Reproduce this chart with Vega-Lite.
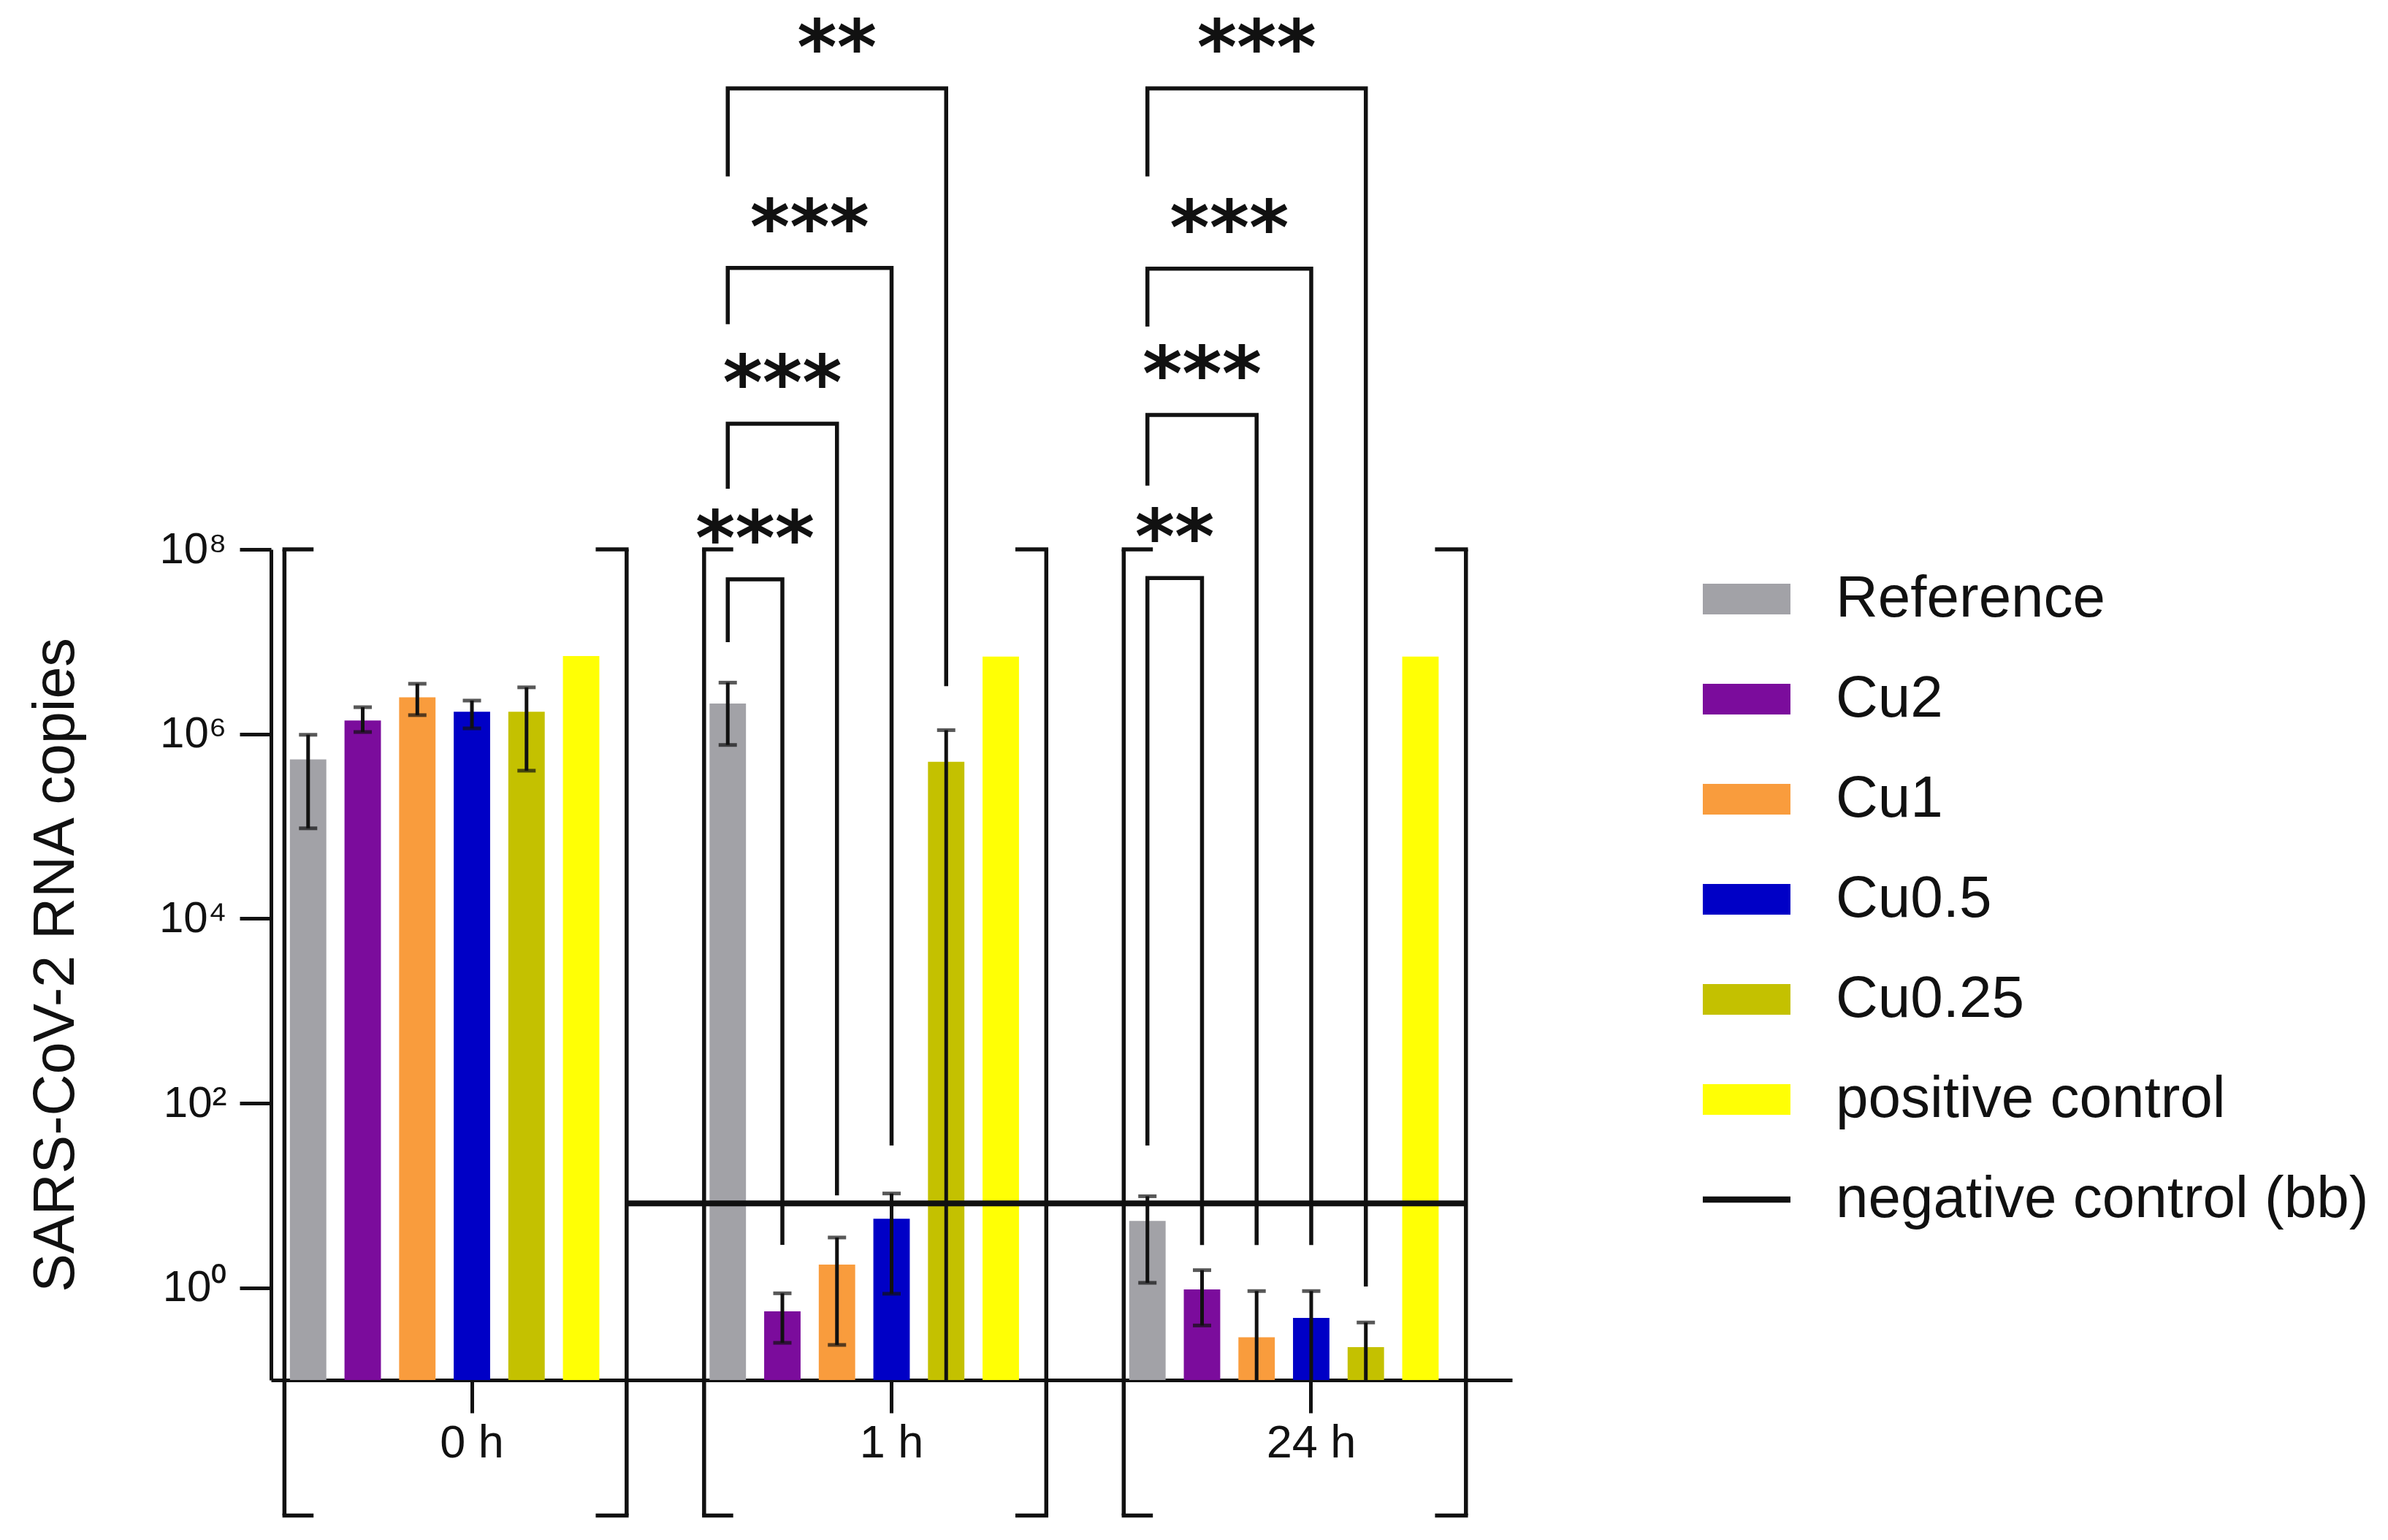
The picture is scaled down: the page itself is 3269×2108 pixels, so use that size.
{
  "$schema": "https://vega.github.io/schema/vega-lite/v6.json",
  "width": 1699,
  "height": 1137,
  "autosize": {"type": "none"},
  "padding": {"left": 371, "top": 752, "right": 1199, "bottom": 219},
  "background": "white",
  "config": {
    "view": {"stroke": null},
    "font": "Liberation Sans",
    "axis": {"labelFont": "Liberation Sans", "titleFont": "Liberation Sans", "grid": false}
  },
  "datasets": {
    "bars": [
      {"group": "0 h", "series": "Reference", "value": 530000, "lo": 95000, "hi": 980000},
      {"group": "0 h", "series": "Cu2", "value": 1400000, "lo": 1050000, "hi": 1950000},
      {"group": "0 h", "series": "Cu1", "value": 2500000, "lo": 1600000, "hi": 3500000},
      {"group": "0 h", "series": "Cu0.5", "value": 1740000, "lo": 1150000, "hi": 2300000},
      {"group": "0 h", "series": "Cu0.25", "value": 1740000, "lo": 400000, "hi": 3200000},
      {"group": "0 h", "series": "positive control", "value": 7000000, "lo": null, "hi": null},
      {"group": "1 h", "series": "Reference", "value": 2140000, "lo": 760000, "hi": 3600000},
      {"group": "1 h", "series": "Cu2", "value": 0.555, "lo": 0.253, "hi": 0.87},
      {"group": "1 h", "series": "Cu1", "value": 1.78, "lo": 0.24, "hi": 3.5},
      {"group": "1 h", "series": "Cu0.5", "value": 5.6, "lo": 0.86, "hi": 10.5},
      {"group": "1 h", "series": "Cu0.25", "value": 500000, "lo": 0.1, "hi": 1100000},
      {"group": "1 h", "series": "positive control", "value": 6900000, "lo": null, "hi": null},
      {"group": "24 h", "series": "Reference", "value": 5.3, "lo": 1.13, "hi": 9.8},
      {"group": "24 h", "series": "Cu2", "value": 0.96, "lo": 0.39, "hi": 1.55},
      {"group": "24 h", "series": "Cu1", "value": 0.29, "lo": 0.1, "hi": 0.92},
      {"group": "24 h", "series": "Cu0.5", "value": 0.47, "lo": 0.1, "hi": 0.92},
      {"group": "24 h", "series": "Cu0.25", "value": 0.227, "lo": 0.1, "hi": 0.42},
      {"group": "24 h", "series": "positive control", "value": 6900000, "lo": null, "hi": null}
    ],
    "negControl": [
      {"group": "0 h", "v": 8.2},
      {"group": "24 h", "v": 8.2}
    ],
    "sig": [
      {"id": "1h-Cu2", "group": "1 h", "series": "Reference", "v": 9900000, "seq": 1},
      {"id": "1h-Cu2", "group": "1 h", "series": "Reference", "v": 47300000, "seq": 2},
      {"id": "1h-Cu2", "group": "1 h", "series": "Cu2", "v": 47300000, "seq": 3},
      {"id": "1h-Cu2", "group": "1 h", "series": "Cu2", "v": 2.91, "seq": 4},
      {"id": "1h-Cu1", "group": "1 h", "series": "Reference", "v": 454000000, "seq": 1},
      {"id": "1h-Cu1", "group": "1 h", "series": "Reference", "v": 2300000000, "seq": 2},
      {"id": "1h-Cu1", "group": "1 h", "series": "Cu1", "v": 2300000000, "seq": 3},
      {"id": "1h-Cu1", "group": "1 h", "series": "Cu1", "v": 10, "seq": 4},
      {"id": "1h-Cu0.5", "group": "1 h", "series": "Reference", "v": 27500000000, "seq": 1},
      {"id": "1h-Cu0.5", "group": "1 h", "series": "Reference", "v": 112000000000, "seq": 2},
      {"id": "1h-Cu0.5", "group": "1 h", "series": "Cu0.5", "v": 112000000000, "seq": 3},
      {"id": "1h-Cu0.5", "group": "1 h", "series": "Cu0.5", "v": 34.7, "seq": 4},
      {"id": "1h-Cu0.25", "group": "1 h", "series": "Reference", "v": 1100000000000, "seq": 1},
      {"id": "1h-Cu0.25", "group": "1 h", "series": "Reference", "v": 9900000000000, "seq": 2},
      {"id": "1h-Cu0.25", "group": "1 h", "series": "Cu0.25", "v": 9900000000000, "seq": 3},
      {"id": "1h-Cu0.25", "group": "1 h", "series": "Cu0.25", "v": 3300000, "seq": 4},
      {"id": "24h-Cu2", "group": "24 h", "series": "Reference", "v": 34.7, "seq": 1},
      {"id": "24h-Cu2", "group": "24 h", "series": "Reference", "v": 49000000, "seq": 2},
      {"id": "24h-Cu2", "group": "24 h", "series": "Cu2", "v": 49000000, "seq": 3},
      {"id": "24h-Cu2", "group": "24 h", "series": "Cu2", "v": 2.9, "seq": 4},
      {"id": "24h-Cu1", "group": "24 h", "series": "Reference", "v": 490000000, "seq": 1},
      {"id": "24h-Cu1", "group": "24 h", "series": "Reference", "v": 2860000000, "seq": 2},
      {"id": "24h-Cu1", "group": "24 h", "series": "Cu1", "v": 2860000000, "seq": 3},
      {"id": "24h-Cu1", "group": "24 h", "series": "Cu1", "v": 2.9, "seq": 4},
      {"id": "24h-Cu0.5", "group": "24 h", "series": "Reference", "v": 26000000000, "seq": 1},
      {"id": "24h-Cu0.5", "group": "24 h", "series": "Reference", "v": 110000000000, "seq": 2},
      {"id": "24h-Cu0.5", "group": "24 h", "series": "Cu0.5", "v": 110000000000, "seq": 3},
      {"id": "24h-Cu0.5", "group": "24 h", "series": "Cu0.5", "v": 2.9, "seq": 4},
      {"id": "24h-Cu0.25", "group": "24 h", "series": "Reference", "v": 1100000000000, "seq": 1},
      {"id": "24h-Cu0.25", "group": "24 h", "series": "Reference", "v": 9900000000000, "seq": 2},
      {"id": "24h-Cu0.25", "group": "24 h", "series": "Cu0.25", "v": 9900000000000, "seq": 3},
      {"id": "24h-Cu0.25", "group": "24 h", "series": "Cu0.25", "v": 1.03, "seq": 4}
    ],
    "sigTextWhole": [
      {"group": "1 h", "anchor": "Cu2", "label": "***", "v": 2300000000},
      {"group": "1 h", "anchor": "Cu1", "label": "**", "v": 9900000000000},
      {"group": "24 h", "anchor": "Cu2", "label": "***", "v": 2860000000},
      {"group": "24 h", "anchor": "Cu1", "label": "***", "v": 9900000000000}
    ],
    "sigTextHalf": [
      {"group": "1 h", "anchor": "Cu2", "label": "***", "v": 47300000},
      {"group": "1 h", "anchor": "Cu1", "label": "***", "v": 112000000000},
      {"group": "24 h", "anchor": "Cu2", "label": "**", "v": 49000000},
      {"group": "24 h", "anchor": "Cu1", "label": "***", "v": 110000000000}
    ],
    "groupBrackets": [
      {"group": "0 h", "top": 100000000, "bottom": 0.0034},
      {"group": "1 h", "top": 100000000, "bottom": 0.0034},
      {"group": "24 h", "top": 100000000, "bottom": 0.0034}
    ],
    "groupBracketEnds": [
      {"group": "0 h", "v": 100000000},
      {"group": "0 h", "v": 0.0034},
      {"group": "1 h", "v": 100000000},
      {"group": "1 h", "v": 0.0034},
      {"group": "24 h", "v": 100000000},
      {"group": "24 h", "v": 0.0034}
    ]
  },
  "layer": [
    {
      "data": {"name": "bars"},
      "mark": {"type": "bar"},
      "encoding": {
        "x": {
          "field": "group", "type": "nominal", "title": null,
          "scale": {"domain": ["0 h", "1 h", "24 h"], "paddingInner": 0.1325, "paddingOuter": 0.045},
          "axis": {"title": null, "labelAngle": 0, "labelFontSize": 63, "labelPadding": 10, "tickSize": 45, "tickWidth": 5, "domainWidth": 5, "domainColor": "#111", "tickColor": "#111", "labelColor": "#111"}
        },
        "xOffset": {
          "field": "series", "type": "nominal",
          "scale": {"domain": ["Reference", "Cu2", "Cu1", "Cu0.5", "Cu0.25", "positive control", "negative control (bb)"], "paddingInner": 0.333, "paddingOuter": 0}
        },
        "y": {
          "field": "value", "type": "quantitative", "title": "SARS-CoV-2 RNA copies",
          "scale": {"type": "log", "domain": [0.1, 100000000], "nice": false},
          "axis": {
            "title": "SARS-CoV-2 RNA copies", "titleFontSize": 79, "titleFontWeight": "normal", "titleColor": "#111", "titlePadding": 100,
            "values": [1, 100, 10000, 1000000, 100000000],
            "labelExpr": "datum.value >= 1e8 ? '10⁸' : datum.value >= 1e6 ? '10⁶' : datum.value >= 1e4 ? '10⁴' : datum.value >= 100 ? '10²' : '10⁰'",
            "labelFontSize": 60, "labelPadding": 18, "labelColor": "#111", "tickSize": 43, "tickWidth": 5, "domainWidth": 5, "domainColor": "#111", "tickColor": "#111", "grid": false
          }
        },
        "y2": {"datum": 0.1},
        "color": {
          "field": "series", "type": "nominal",
          "scale": {
            "domain": ["Reference", "Cu2", "Cu1", "Cu0.5", "Cu0.25", "positive control", "negative control (bb)"],
            "range": ["#A2A2A7", "#7B0C9C", "#F99C3D", "#0000C6", "#C4C100", "#FFFF05", "#111111"]
          },
          "legend": {
            "title": null, "orient": "none", "legendX": 1960, "legendY": 8, "padding": 0,
            "symbolType": "M-1,-0.35L1,-0.35L1,0.35L-1,0.35Z", "symbolSize": 14400, "symbolStrokeWidth": 0,
            "labelFontSize": 80, "labelFont": "Liberation Sans", "labelColor": "#111", "labelOffset": 62, "labelLimit": 1500, "rowPadding": 37,
            "encode": {"symbols": {"update": {"shape": {"signal": "datum.value === 'negative control (bb)' ? 'M-1,-0.07L1,-0.07L1,0.07L-1,0.07Z' : 'M-1,-0.35L1,-0.35L1,0.35L-1,0.35Z'"}}}}
          }
        }
      }
    },
    {
      "data": {"name": "negControl"},
      "mark": {"type": "line", "color": "#111", "strokeWidth": 8},
      "encoding": {
        "x": {"field": "group", "type": "nominal", "title": null, "bandPosition": 0.925},
        "y": {"field": "v", "type": "quantitative", "title": "SARS-CoV-2 RNA copies"}
      }
    },
    {
      "data": {"name": "bars"},
      "transform": [{"filter": "isValid(datum.hi)"}],
      "mark": {"type": "rule", "color": "#111", "strokeWidth": 5},
      "encoding": {
        "x": {"field": "group", "type": "nominal", "title": null},
        "xOffset": {"field": "series", "type": "nominal", "scale": {"domain": ["Reference", "Cu2", "Cu1", "Cu0.5", "Cu0.25", "positive control", "negative control (bb)"]}},
        "y": {"field": "lo", "type": "quantitative", "title": "SARS-CoV-2 RNA copies"},
        "y2": {"field": "hi"}
      }
    },
    {
      "data": {"name": "bars"},
      "transform": [{"filter": "isValid(datum.hi)"}],
      "mark": {"type": "tick", "color": "#111", "size": 25, "thickness": 5},
      "encoding": {
        "x": {"field": "group", "type": "nominal", "title": null},
        "xOffset": {"field": "series", "type": "nominal", "scale": {"domain": ["Reference", "Cu2", "Cu1", "Cu0.5", "Cu0.25", "positive control", "negative control (bb)"]}},
        "y": {"field": "hi", "type": "quantitative", "title": "SARS-CoV-2 RNA copies"}
      }
    },
    {
      "data": {"name": "bars"},
      "transform": [{"filter": "isValid(datum.lo) && datum.lo > 0.1"}],
      "mark": {"type": "tick", "color": "#111", "size": 25, "thickness": 5},
      "encoding": {
        "x": {"field": "group", "type": "nominal", "title": null},
        "xOffset": {"field": "series", "type": "nominal", "scale": {"domain": ["Reference", "Cu2", "Cu1", "Cu0.5", "Cu0.25", "positive control", "negative control (bb)"]}},
        "y": {"field": "lo", "type": "quantitative", "title": "SARS-CoV-2 RNA copies"}
      }
    },
    {
      "data": {"name": "sig"},
      "mark": {"type": "line", "color": "#111", "strokeWidth": 5.5, "strokeJoin": "miter", "strokeCap": "butt"},
      "encoding": {
        "x": {"field": "group", "type": "nominal", "title": null},
        "xOffset": {"field": "series", "type": "nominal", "scale": {"domain": ["Reference", "Cu2", "Cu1", "Cu0.5", "Cu0.25", "positive control", "negative control (bb)"]}},
        "y": {"field": "v", "type": "quantitative", "title": "SARS-CoV-2 RNA copies"},
        "detail": {"field": "id"},
        "order": {"field": "seq", "type": "quantitative"}
      }
    },
    {
      "data": {"name": "groupBrackets"},
      "mark": {"type": "rule", "color": "#111", "strokeWidth": 5.5},
      "encoding": {
        "x": {"field": "group", "type": "nominal", "title": null, "bandPosition": -0.015},
        "y": {"field": "top", "type": "quantitative", "title": "SARS-CoV-2 RNA copies"},
        "y2": {"field": "bottom"}
      }
    },
    {
      "data": {"name": "groupBrackets"},
      "mark": {"type": "rule", "color": "#111", "strokeWidth": 5.5},
      "encoding": {
        "x": {"field": "group", "type": "nominal", "title": null, "bandPosition": 0.925},
        "y": {"field": "top", "type": "quantitative", "title": "SARS-CoV-2 RNA copies"},
        "y2": {"field": "bottom"}
      }
    },
    {
      "data": {"name": "groupBracketEnds"},
      "mark": {"type": "rule", "color": "#111", "strokeWidth": 5.5},
      "encoding": {
        "x": {"field": "group", "type": "nominal", "title": null, "bandPosition": -0.0205},
        "x2": {"field": "group", "bandPosition": 0.065},
        "y": {"field": "v", "type": "quantitative", "title": "SARS-CoV-2 RNA copies"}
      }
    },
    {
      "data": {"name": "groupBracketEnds"},
      "mark": {"type": "rule", "color": "#111", "strokeWidth": 5.5},
      "encoding": {
        "x": {"field": "group", "type": "nominal", "title": null, "bandPosition": 0.84},
        "x2": {"field": "group", "bandPosition": 0.9305},
        "y": {"field": "v", "type": "quantitative", "title": "SARS-CoV-2 RNA copies"}
      }
    },
    {
      "data": {"name": "sigTextWhole"},
      "mark": {"type": "text", "font": "DejaVu Sans", "fontWeight": "bold", "fontSize": 104, "color": "#111", "align": "center", "baseline": "alphabetic", "dy": -20},
      "encoding": {
        "x": {"field": "group", "type": "nominal", "title": null},
        "xOffset": {"field": "anchor", "type": "nominal", "scale": {"domain": ["Reference", "Cu2", "Cu1", "Cu0.5", "Cu0.25", "positive control", "negative control (bb)"]}},
        "y": {"field": "v", "type": "quantitative", "title": "SARS-CoV-2 RNA copies"},
        "text": {"field": "label"}
      }
    },
    {
      "data": {"name": "sigTextHalf"},
      "mark": {"type": "text", "font": "DejaVu Sans", "fontWeight": "bold", "fontSize": 104, "color": "#111", "align": "center", "baseline": "alphabetic", "dy": -20, "dx": -37.4},
      "encoding": {
        "x": {"field": "group", "type": "nominal", "title": null},
        "xOffset": {"field": "anchor", "type": "nominal", "scale": {"domain": ["Reference", "Cu2", "Cu1", "Cu0.5", "Cu0.25", "positive control", "negative control (bb)"]}},
        "y": {"field": "v", "type": "quantitative", "title": "SARS-CoV-2 RNA copies"},
        "text": {"field": "label"}
      }
    }
  ]
}
